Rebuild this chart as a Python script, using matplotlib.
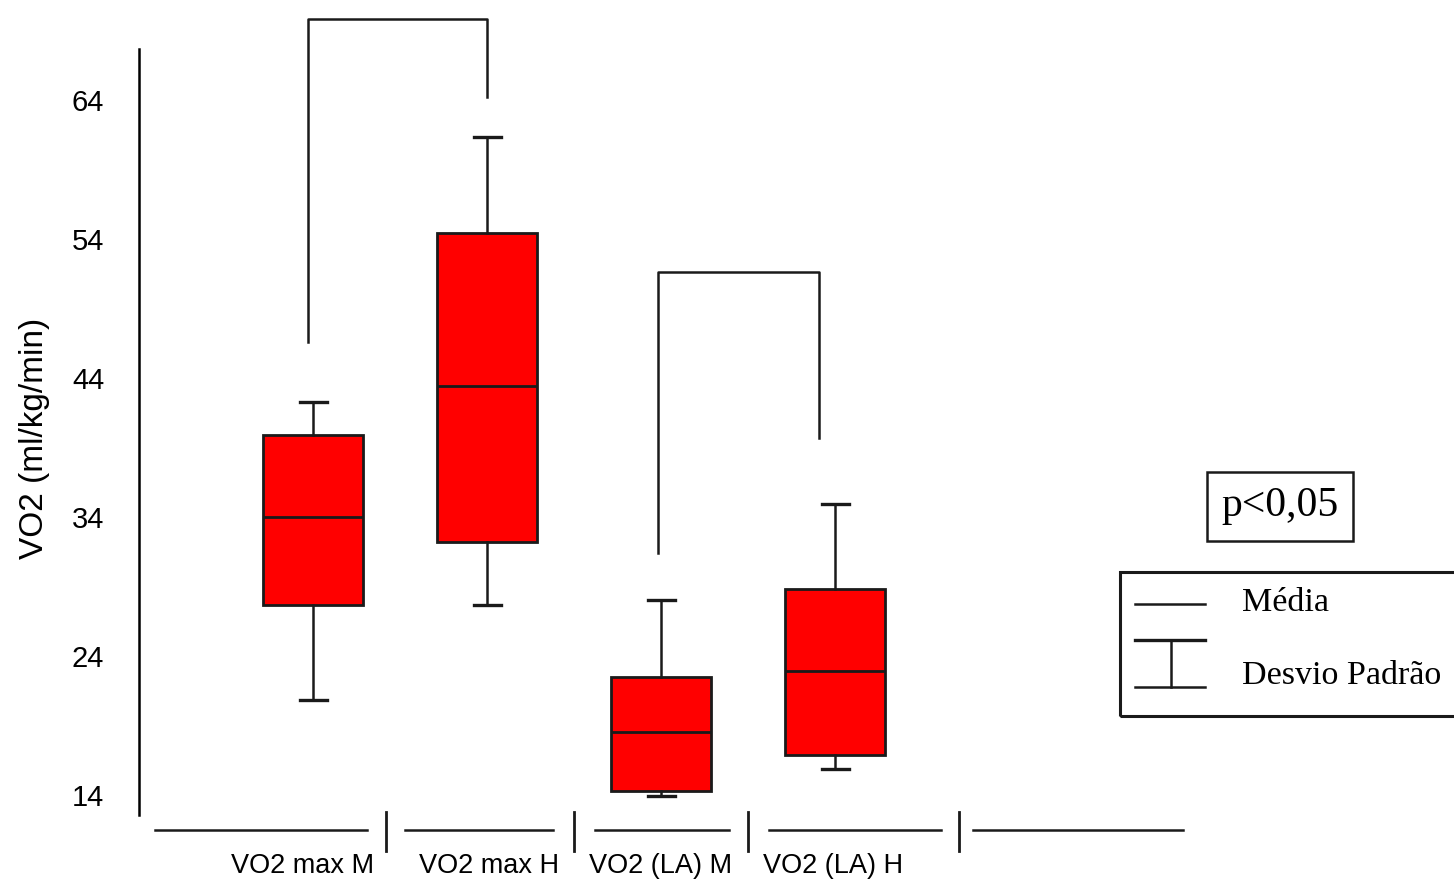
import matplotlib
matplotlib.use('Agg')
import matplotlib.pyplot as plt
from matplotlib.patches import Rectangle

# dados
grupos = ['VO2 max M', 'VO2 max H', 'VO2 (LA) M', 'VO2 (LA) H']
media = [34.0, 43.4, 18.5, 22.9]
caixa_baixo = [27.7, 32.2, 14.3, 16.9]
caixa_alto = [39.9, 54.4, 22.5, 28.8]
desvio_baixo = [20.8, 27.7, 13.9, 15.9]
desvio_alto = [42.3, 61.3, 28.0, 34.9]
yticks = [14, 24, 34, 44, 54, 64]

# colchetes de significancia: (x esq, x dir, y esq, y dir, topo)
colchetes = [(0.97, 2.0, 46.6, 64.2, 69.8), (2.98, 3.91, 31.4, 39.7, 51.6)]
separadores = [1.42, 2.5, 3.5, 4.71]
segmentos = [(0.09, 1.31), (1.53, 2.38), (2.62, 3.39), (3.62, 4.61), (4.79, 6.0)]

sans = ['Liberation Sans Narrow', 'Liberation Sans', 'DejaVu Sans']
serif = ['Liberation Serif', 'DejaVu Serif']

fig = plt.figure(figsize=(14.54, 8.88), dpi=100)
ax = fig.add_axes([0, 0, 1, 1])
ax.set_xlim(-0.799, 7.557)
ax.set_ylim(7.31, 71.19)

stats = []
for i in range(len(grupos)):
    stats.append({'med': media[i], 'q1': caixa_baixo[i], 'q3': caixa_alto[i],
                  'whislo': desvio_baixo[i], 'whishi': desvio_alto[i], 'label': grupos[i]})
pos = list(range(1, len(grupos) + 1))
ax.bxp(stats, positions=pos, widths=0.575, showfliers=False, patch_artist=True,
       capwidths=0.155, manage_ticks=False,
       boxprops=dict(facecolor='#ff0000', edgecolor='#1a1a1a', linewidth=2),
       medianprops=dict(color='#1a1a1a', linewidth=2),
       whiskerprops=dict(color='#1a1a1a', linewidth=1.8),
       capprops=dict(color='#1a1a1a', linewidth=2.4), zorder=3)

for xe, xd, ye, yd, topo in colchetes:
    ax.plot([xe, xe, xd, xd], [ye, topo, topo, yd], color='#1a1a1a', lw=1.8)

# eixo y
for s in ['top', 'right', 'bottom']:
    ax.spines[s].set_visible(False)
ax.spines['left'].set_position(('data', 0))
ax.spines['left'].set_bounds(12.56, 67.7)
ax.spines['left'].set_linewidth(1.8)
ax.set_yticks(yticks)
ax.set_yticklabels([str(v) for v in yticks], family=sans, fontsize=21)
ax.tick_params(axis='y', length=0, pad=25)
ax.set_xticks([])

# eixo x quebrado
y_eixo = 11.48
for a, b in segmentos:
    ax.plot([a, b], [y_eixo, y_eixo], color='#1a1a1a', lw=1.8)
for s in separadores:
    ax.plot([s, s], [y_eixo - 1.5, y_eixo + 1.3], color='#1a1a1a', lw=2)
xlab = [0.94, 2.01, 3.0, 3.99]
for x, g in zip(xlab, grupos):
    ax.text(x, 8.9, g, ha='center', va='center', family=sans, fontsize=19.5)

fig.text(35 / 1454, 1 - 438 / 888, 'VO2 (ml/kg/min)', rotation=90, ha='center', va='center',
         family=sans, fontsize=24)

# caixa p<0,05 e legenda, em pixels
def px(x, y):
    return (x / 1454, 1 - y / 888)

fig.patches.append(Rectangle(px(1207, 541), 146 / 1454, 69 / 888, transform=fig.transFigure,
                             fill=False, edgecolor='#1a1a1a', lw=1.8))
fig.text(*px(1280, 506), 'p<0,05', ha='center', va='center', family=serif, fontsize=30)

fig.patches.append(Rectangle(px(1120, 716), 340 / 1454, 144 / 888, transform=fig.transFigure,
                             fill=False, edgecolor='#1a1a1a', lw=2.2))
leg = fig.add_axes([0, 0, 1, 1], facecolor='none')
leg.set_xlim(0, 1454)
leg.set_ylim(888, 0)
leg.axis('off')
leg.plot([1135, 1205], [604, 604], color='#1a1a1a', lw=1.8)
leg.plot([1135, 1205], [640, 640], color='#1a1a1a', lw=2.4)
leg.plot([1171, 1171], [640, 687], color='#1a1a1a', lw=1.8)
leg.plot([1135, 1205], [687, 687], color='#1a1a1a', lw=1.8)
leg.text(1242, 603, 'Média', ha='left', va='center', family=serif, fontsize=24.5)
leg.text(1242, 676, 'Desvio Padrão', ha='left', va='center', family=serif, fontsize=24.5)

fig.savefig('out.png', dpi=100)
plt.close(fig)
